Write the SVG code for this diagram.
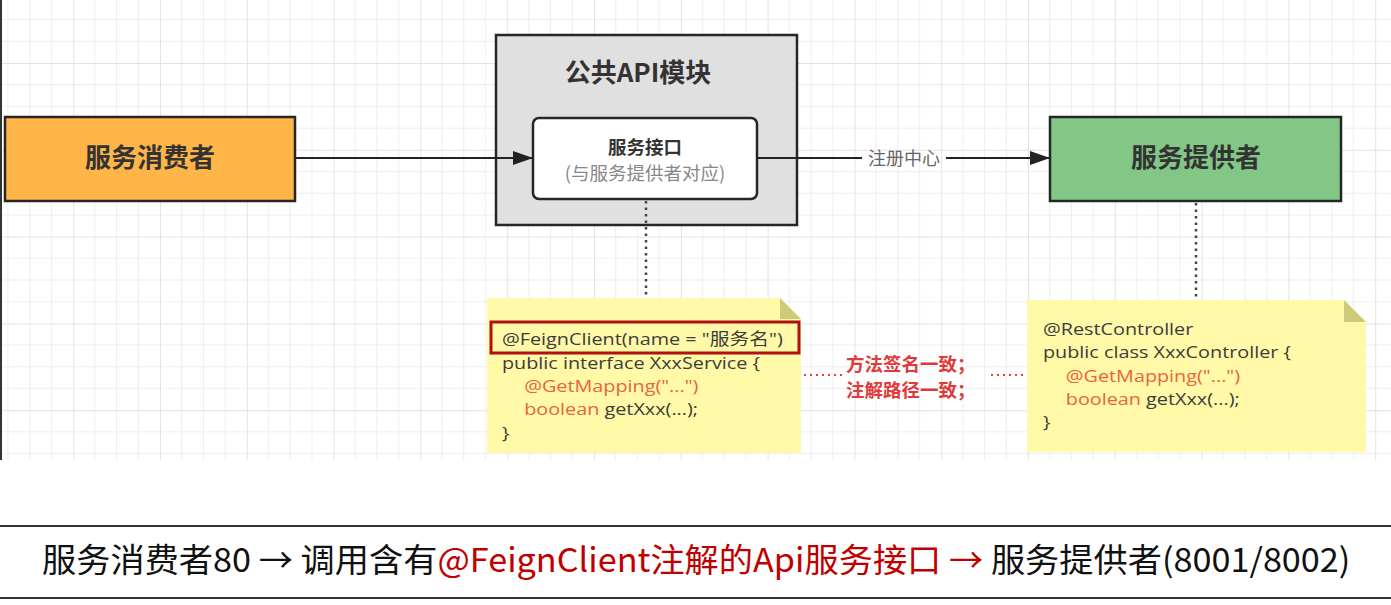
<svg xmlns="http://www.w3.org/2000/svg" width="1391" height="605" viewBox="0 0 1391 605">
<defs>
<pattern id="grid" patternUnits="userSpaceOnUse" x="73.2" y="63" width="86.8" height="86.8">
<path d="M0 0H86.8M0 21.7H86.8M0 43.4H86.8M0 65.1H86.8M0 0V86.8M21.7 0V86.8M43.4 0V86.8M65.1 0V86.8" stroke="#ededed" stroke-width="1" fill="none"/>
<path d="M0 0.5H86.8M0.5 0V86.8" stroke="#e3e3e3" stroke-width="1" fill="none"/>
</pattern>
<marker id="arr" viewBox="0 0 20 14" refX="20" refY="7" markerWidth="20" markerHeight="14" markerUnits="userSpaceOnUse" orient="auto">
<path d="M0 0L20 7L0 14Z" fill="#222"/>
</marker>
<style>
.box{stroke:#262626;stroke-width:2.5}
.big{font-family:"Noto Sans CJK SC",sans-serif;font-weight:bold;font-size:26px;fill:#333;text-anchor:middle}
.cjk{font-family:"Noto Sans CJK SC",sans-serif}
.code{font-family:"Open Sans","Noto Sans CJK SC",sans-serif;font-size:16.5px;fill:#3c3c3c}
.hl{fill:#e8643c}
.note{fill:#fff9a8}
.fold{fill:#cdca7c}
.dot{stroke:#444;stroke-width:2.5;stroke-dasharray:2.5 4;fill:none}
.rdot{stroke:#e04040;stroke-width:2;stroke-dasharray:2 4;fill:none}
.red{font-family:"Noto Sans CJK SC",sans-serif;font-weight:bold;font-size:18.5px;fill:#e03a3a}
</style>
</defs>
<rect width="1391" height="605" fill="#fff"/>
<rect x="0" y="0" width="1391" height="460" fill="url(#grid)"/>
<line x1="1" y1="0" x2="1" y2="460" stroke="#333" stroke-width="2"/>

<g id="consumer">
<rect x="5" y="117" width="290" height="84" fill="#ffb547" class="box"/>
<text x="150" y="167" class="big">服务消费者</text>
</g>

<g id="api-module">
<rect x="496" y="35" width="301" height="190" fill="#e0e0e0" class="box"/>
<text x="638" y="82" class="big">公共API模块</text>
</g>

<g id="service-interface">
<rect x="533" y="118" width="224" height="81" rx="6" fill="#fff" class="box"/>
<text x="645" y="154" class="cjk" font-weight="bold" font-size="18.5" fill="#333" text-anchor="middle">服务接口</text>
<text x="645" y="180" class="cjk" font-size="18.5" fill="#888" text-anchor="middle">(与服务提供者对应)</text>
</g>

<g id="provider">
<rect x="1050" y="117" width="291" height="84" fill="#82c785" class="box"/>
<text x="1196" y="167" class="big">服务提供者</text>
</g>

<g id="feign-note">
<path d="M487 298H780L801 319V453H487Z" class="note"/>
<path d="M780 298L801 319H780Z" class="fold"/>
<rect x="491" y="322" width="308" height="31" fill="none" stroke="#b01010" stroke-width="3"/>
<g transform="translate(502,0) scale(1.2,1)">
<text class="code" x="0" y="345">@FeignClient(name = "服务名")</text>
<text class="code" x="0" y="369">public interface XxxService {</text>
<text class="code hl" x="18.5" y="392">@GetMapping("...")</text>
<text class="code" x="18.5" y="415"><tspan class="hl">boolean</tspan> getXxx(...);</text>
<text class="code" x="0" y="439">}</text>
</g>
</g>

<g id="consistency-label">
<text class="red" x="846" y="371">方法签名一致；</text>
<text class="red" x="846" y="397">注解路径一致；</text>
</g>

<g id="controller-note">
<path d="M1027 300H1344L1366 322V452H1027Z" class="note"/>
<path d="M1344 300L1366 322H1344Z" class="fold"/>
<g transform="translate(1043,0) scale(1.2,1)">
<text class="code" x="0" y="335">@RestController</text>
<text class="code" x="0" y="358">public class XxxController {</text>
<text class="code hl" x="19" y="382">@GetMapping("...")</text>
<text class="code" x="19" y="405"><tspan class="hl">boolean</tspan> getXxx(...);</text>
<text class="code" x="0" y="428">}</text>
</g>
</g>

<g id="connectors">
<line x1="296" y1="158" x2="533" y2="158" stroke="#222" stroke-width="2" marker-end="url(#arr)"/>
<line x1="757" y1="158" x2="862" y2="158" stroke="#222" stroke-width="2"/>
<line x1="946" y1="158" x2="1050" y2="158" stroke="#222" stroke-width="2" marker-end="url(#arr)"/>
<text x="904" y="165" class="cjk" font-size="18" fill="#666" text-anchor="middle">注册中心</text>
<line x1="646" y1="201" x2="646" y2="298" class="dot"/>
<line x1="1196" y1="203" x2="1196" y2="300" class="dot"/>
<line x1="804" y1="375" x2="842" y2="375" class="rdot"/>
<line x1="991" y1="375" x2="1026" y2="375" class="rdot"/>
</g>

<g id="caption">
<line x1="0" y1="526" x2="1391" y2="526" stroke="#333" stroke-width="2"/>
<line x1="0" y1="598" x2="1391" y2="598" stroke="#333" stroke-width="2"/>
<text transform="translate(42,572) scale(1.037,1)" x="0" y="0" class="cjk" font-size="33" fill="#111">服务消费者80 → 调用含有<tspan fill="#c00000">@FeignClient注解的Api服务接口 →</tspan> 服务提供者(8001/8002)</text>
</g>
</svg>
